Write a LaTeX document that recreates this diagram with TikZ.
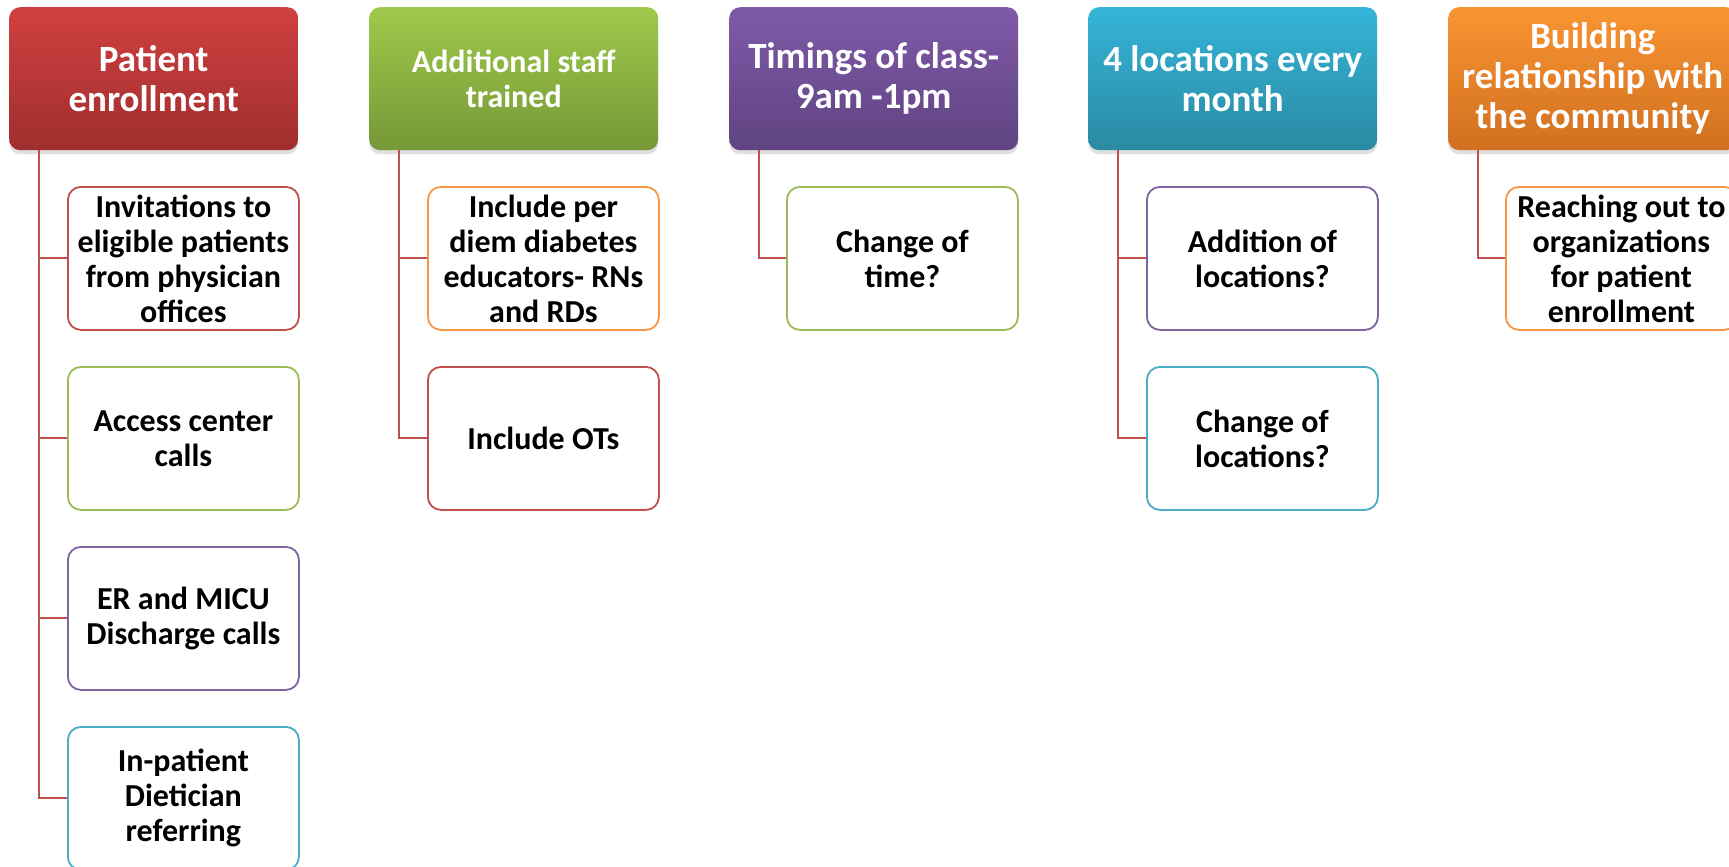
\documentclass[tikz,border=0pt]{standalone}
\usepackage{fontspec}
\setmainfont{Carlito}
\usetikzlibrary{shadows}
\definecolor{cred}{HTML}{C0504D}
\definecolor{cgreen}{HTML}{9BBB59}
\definecolor{cpurple}{HTML}{8064A2}
\definecolor{cblue}{HTML}{4BACC6}
\definecolor{corange}{HTML}{F79646}
\tikzset{
  hdr/.style={rounded corners=11pt, minimum width=289pt, minimum height=143pt, anchor=north west,
    align=center, text=white, font=\bfseries\fontsize{37}{40}\selectfont, inner sep=2pt,
    drop shadow={opacity=0.25, shadow xshift=0pt, shadow yshift=-4pt}},
  child/.style={rounded corners=13pt, draw=#1, line width=1.8pt, fill=white, minimum width=231pt,
    minimum height=143pt, anchor=north west, align=center, text=black,
    font=\bfseries\fontsize{32}{35}\selectfont, inner sep=2pt},
  conn/.style={draw=cred, line width=2pt}
}
\begin{document}
\begin{tikzpicture}[x=1pt,y=-1pt]
\useasboundingbox (0,0) rectangle (1729,867);
\clip (0,0) rectangle (1729,867);
% headers
\node[hdr, top color={rgb,255:red,208;green,64;blue,64}, bottom color={rgb,255:red,160;green,46;blue,46}] (h1) at (9,7) {Patient\\enrollment};
\node[hdr, top color={rgb,255:red,158;green,202;blue,74}, bottom color={rgb,255:red,118;green,152;blue,56}, font=\bfseries\fontsize{32}{35}\selectfont] (h2) at (369,7) {Additional staff\\trained};
\node[hdr, top color={rgb,255:red,126;green,90;blue,168}, bottom color={rgb,255:red,96;green,68;blue,130}] (h3) at (729,7) {Timings of class-\\9am -1pm};
\node[hdr, top color={rgb,255:red,53;green,180;blue,216}, bottom color={rgb,255:red,42;green,138;blue,162}] (h4) at (1088,7) {4 locations every\\month};
\node[hdr, top color={rgb,255:red,250;green,148;blue,50}, bottom color={rgb,255:red,208;green,112;blue,32}] (h5) at (1448,7) {Building\\relationship with\\the community};
% column 1
\node[child=cred] (c11) at (67,186) {Invitations to\\eligible patients\\from physician\\offices};
\node[child=cgreen] (c12) at (67,366) {Access center\\calls};
\node[child=cpurple] (c13) at (67,546) {ER and MICU\\Discharge calls};
\node[child=cblue] (c14) at (67,726) {In-patient\\Dietician\\referring};
% column 2
\node[child=corange] (c21) at (427,186) {Include per\\diem diabetes\\educators- RNs\\and RDs};
\node[child=cred] (c22) at (427,366) {Include OTs};
% column 3
\node[child=cgreen] (c31) at (786,186) {Change of\\time?};
% column 4
\node[child=cpurple] (c41) at (1146,186) {Addition of\\locations?};
\node[child=cblue] (c42) at (1146,366) {Change of\\locations?};
% column 5
\node[child=corange] (c51) at (1505,186) {Reaching out to\\organizations\\for patient\\enrollment};
% connectors
\foreach \c in {c11,c12,c13,c14}{\draw[conn] ([xshift=29.5pt]h1.south west) |- (\c.west);}
\foreach \c in {c21,c22}{\draw[conn] ([xshift=29.5pt]h2.south west) |- (\c.west);}
\draw[conn] ([xshift=29.5pt]h3.south west) |- (c31.west);
\foreach \c in {c41,c42}{\draw[conn] ([xshift=29.5pt]h4.south west) |- (\c.west);}
\draw[conn] ([xshift=29.5pt]h5.south west) |- (c51.west);
\end{tikzpicture}
\end{document}
